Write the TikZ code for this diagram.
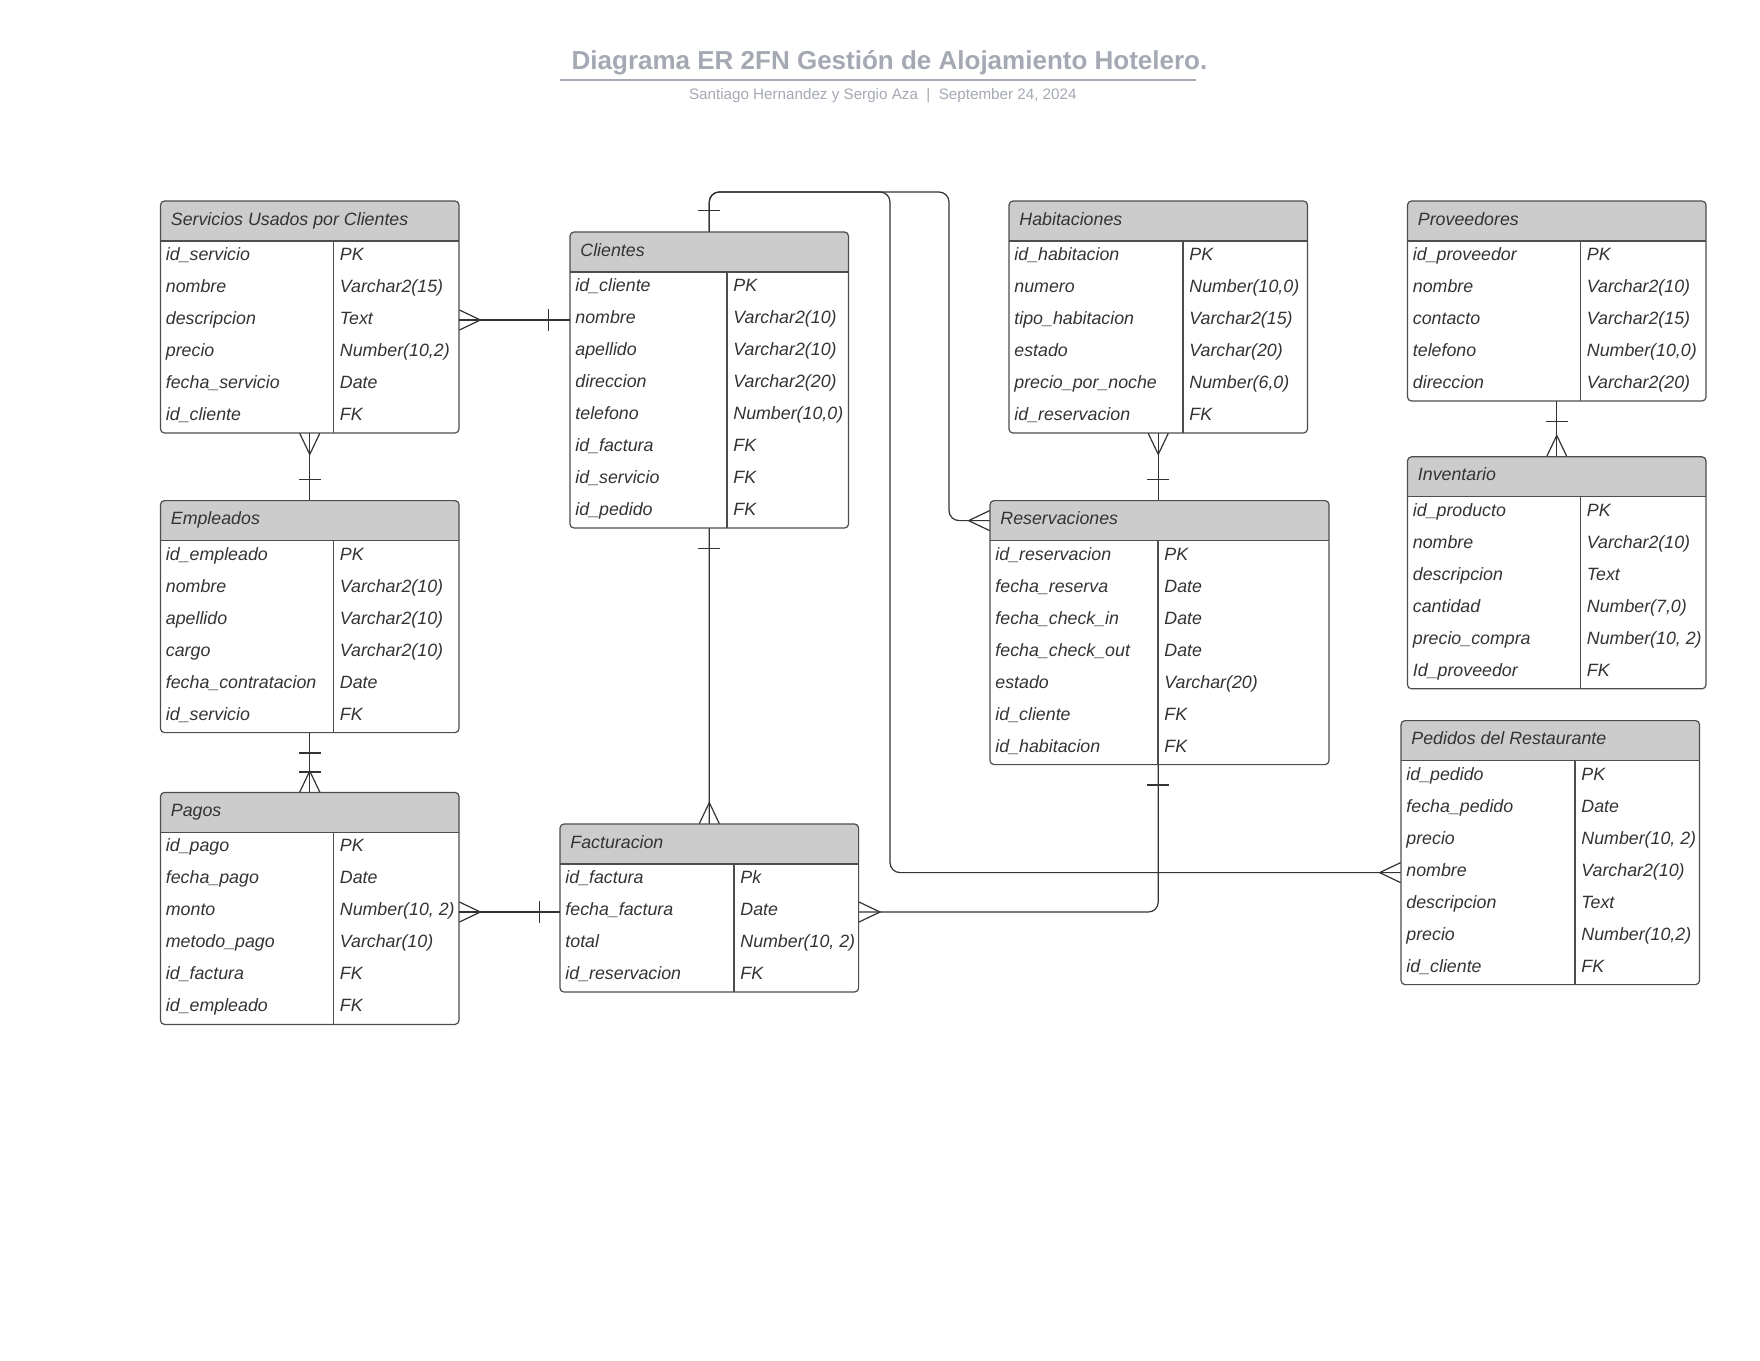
\documentclass[tikz,border=0pt]{standalone}
\usepackage{fontspec}
\setmainfont{Liberation Sans}
\usetikzlibrary{calc,fit}

\definecolor{inkc}{HTML}{333333}
\definecolor{linec}{HTML}{4D4D4D}
\definecolor{hdrfill}{HTML}{CCCCCC}
\definecolor{titlec}{HTML}{A4A9B3}

\tikzset{
  conn/.style={draw=inkc, line width=0.6pt},
  boxline/.style={draw=linec, line width=0.6pt},
  rowtxt/.style={font=\fontsize{8.9}{10}\selectfont\itshape, text=inkc, inner sep=0pt, anchor=base west},
  hdrtxt/.style={rowtxt},
}

% #1 name, #2 x, #3 y, #4 width, #5 column divider offset, #6 rows, #7 title, #8 rows as name/type
\newcommand\ertable[8]{%
  \coordinate (#1-nw) at (#2,#3);
  \coordinate (#1-se) at (#2+#4,#3+40+32*#6);
  \node[fit=(#1-nw)(#1-se), inner sep=0pt] (#1) {};
  \fill[hdrfill, rounded corners=2pt] (#2,#3) rectangle (#2+#4,#3+40);
  \fill[hdrfill] (#2,#3+20) rectangle (#2+#4,#3+40);
  \draw[boxline] (#2,#3+40) -- (#2+#4,#3+40) (#2+#5,#3+40) -- (#2+#5,#3+40+32*#6);
  \draw[boxline, rounded corners=2pt] (#1-nw) rectangle (#1-se);
  \coordinate (#1-hy) at (#2,#3+20);
  \node[hdrtxt] (#1-hd) at (#2+10,#3+24) {#7};
  \foreach \ca/\cb [count=\i] in {#8} {
    \coordinate (#1-y\i) at (#2,#3+24+32*\i);
    \node[rowtxt] (#1-r\i) at (#2+5,#3+27.5+32*\i) {\ca};
    \node[rowtxt] (#1-t\i) at (#2+#5+6,#3+27.5+32*\i) {\cb};
  }
}

% crow's foot: #1 point on the entity edge, #2 direction pointing away from the entity
\newcommand\crowfoot[2]{%
  \draw[conn] ($(#1)+(#2+90:10)$) -- ($(#1)+(#2:21)$) -- ($(#1)+(#2-90:10)$);}
% single bar: #1 point on the entity edge, #2 direction, #3 distance from the edge
\newcommand\onebar[3]{%
  \draw[conn] ($(#1)+(#2:#3)+(#2+90:11)$) -- ($(#1)+(#2:#3)+(#2-90:11)$);}

\begin{document}
\begin{tikzpicture}[x=0.5pt,y=-0.5pt]
\fill[white] (0,0) rectangle (1760,1360);
\useasboundingbox (0,0) rectangle (1760,1360);

% heading
\node[font=\fontsize{13}{15}\selectfont\bfseries, text=titlec, anchor=base, inner sep=0pt] (title) at (889.5,69.5) {Diagrama ER 2FN Gestión de Alojamiento Hotelero.};
\coordinate (ulA) at (560,80);
\coordinate (ulB) at (1196,80);
\draw[titlec, line width=1pt] (ulA) -- (ulB);
\node[font=\fontsize{7.6}{9}\selectfont, text=titlec, anchor=base, inner sep=0pt] (subtitle) at (882.8,99) {Santiago Hernandez y Sergio Aza\ \ |\ \ September 24, 2024};

% entities
\ertable{serv}{160.5}{201}{298.5}{173}{6}{Servicios Usados por Clientes}{{id\_servicio/PK},{nombre/Varchar2(15)},{descripcion/Text},{precio/Number(10,2)},{fecha\_servicio/Date},{id\_cliente/FK}}
\ertable{cli}{570}{232}{278.5}{157}{8}{Clientes}{{id\_cliente/PK},{nombre/Varchar2(10)},{apellido/Varchar2(10)},{direccion/Varchar2(20)},{telefono/Number(10,0)},{id\_factura/FK},{id\_servicio/FK},{id\_pedido/FK}}
\ertable{hab}{1009}{201}{298.5}{174}{6}{Habitaciones}{{id\_habitacion/PK},{numero/Number(10,0)},{tipo\_habitacion/Varchar2(15)},{estado/Varchar(20)},{precio\_por\_noche/Number(6,0)},{id\_reservacion/FK}}
\ertable{prov}{1407.5}{201}{298.5}{173}{5}{Proveedores}{{id\_proveedor/PK},{nombre/Varchar2(10)},{contacto/Varchar2(15)},{telefono/Number(10,0)},{direccion/Varchar2(20)}}
\ertable{emp}{160.5}{500.6}{298.5}{173}{6}{Empleados}{{id\_empleado/PK},{nombre/Varchar2(10)},{apellido/Varchar2(10)},{cargo/Varchar2(10)},{fecha\_contratacion/Date},{id\_servicio/FK}}
\ertable{res}{990}{500.6}{339}{168}{7}{Reservaciones}{{id\_reservacion/PK},{fecha\_reserva/Date},{fecha\_check\_in/Date},{fecha\_check\_out/Date},{estado/Varchar(20)},{id\_cliente/FK},{id\_habitacion/FK}}
\ertable{inv}{1407.5}{456.8}{298.5}{173}{6}{Inventario}{{id\_producto/PK},{nombre/Varchar2(10)},{descripcion/Text},{cantidad/Number(7,0)},{precio\_compra/Number(10, 2)},{Id\_proveedor/FK}}
\ertable{pag}{160.5}{792.4}{298.5}{173}{6}{Pagos}{{id\_pago/PK},{fecha\_pago/Date},{monto/Number(10, 2)},{metodo\_pago/Varchar(10)},{id\_factura/FK},{id\_empleado/FK}}
\ertable{fac}{560}{824}{298.6}{174}{4}{Facturacion}{{id\_factura/Pk},{fecha\_factura/Date},{total/Number(10, 2)},{id\_reservacion/FK}}
\ertable{ped}{1401}{720.6}{298.5}{174}{7}{Pedidos del Restaurante}{{id\_pedido/PK},{fecha\_pedido/Date},{precio/Number(10, 2)},{nombre/Varchar2(10)},{descripcion/Text},{precio/Number(10,2)},{id\_cliente/FK}}

% Servicios -- Clientes
\coordinate (sc1) at (serv.east |- cli-y2);
\coordinate (sc2) at (cli.west |- cli-y2);
\draw[conn] (sc1) -- (sc2);
\crowfoot{sc1}{0}
\onebar{sc2}{180}{21}

% Servicios -- Empleados
\draw[conn] (serv.south) -- (emp.north);
\crowfoot{serv.south}{90}
\onebar{emp.north}{270}{21}

% Empleados -- Pagos
\draw[conn] (emp.south) -- (pag.north);
\onebar{emp.south}{90}{20}
\onebar{pag.north}{270}{20}
\crowfoot{pag.north}{270}

% Pagos -- Facturacion
\coordinate (pf1) at (pag.east |- fac-y2);
\coordinate (pf2) at (fac.west |- fac-y2);
\draw[conn] (pf1) -- (pf2);
\crowfoot{pf1}{0}
\onebar{pf2}{180}{20}

% Clientes -- Facturacion
\draw[conn] (cli.south) -- (fac.north);
\onebar{cli.south}{90}{20}
\crowfoot{fac.north}{270}

% Reservaciones -- Facturacion
\coordinate (rf1) at (res.south -| hab.south);
\coordinate (rf2) at (fac.east |- fac-y2);
\draw[conn, rounded corners=5pt] (rf1) |- (rf2);
\onebar{rf1}{90}{20}
\crowfoot{rf2}{0}

% Habitaciones -- Reservaciones
\coordinate (hr2) at (res.north -| hab.south);
\draw[conn] (hab.south) -- (hr2);
\crowfoot{hab.south}{90}
\onebar{hr2}{270}{21}

% Proveedores -- Inventario
\draw[conn] (prov.south) -- (inv.north);
\onebar{prov.south}{90}{20}
\crowfoot{inv.north}{270}

% Clientes -- Reservaciones and Clientes -- Pedidos over the top
\coordinate (busA) at (890,192);
\coordinate (busB) at (949,192);
\coordinate (cr2) at (res.west |- res-hy);
\coordinate (cp2) at (ped.west |- ped-y4);
\draw[conn, rounded corners=5pt] (cli.north) |- (busB) |- (cr2);
\draw[conn, rounded corners=5pt] (cli.north) |- (busA) |- (cp2);
\onebar{cli.north}{270}{21}
\crowfoot{cr2}{180}
\crowfoot{cp2}{180}
\end{tikzpicture}
\end{document}
